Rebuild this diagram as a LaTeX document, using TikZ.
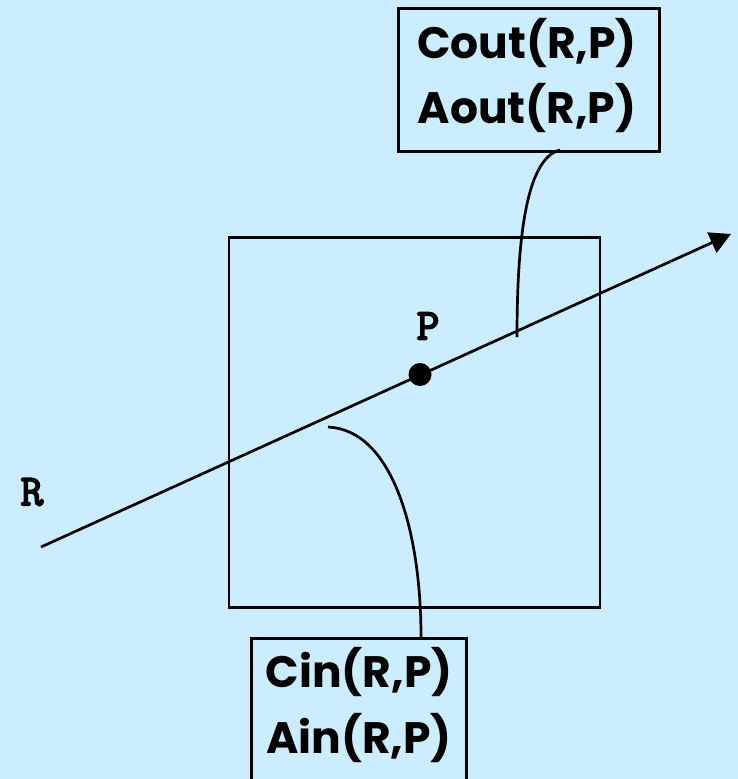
\documentclass[tikz,border=0pt]{standalone}
\usepackage{fontspec}
\newfontfamily\labfont{Poppins}
\newfontfamily\courfont{Latin Modern Mono}[FakeBold=4]
\usetikzlibrary{arrows.meta}
\definecolor{bgblue}{RGB}{204,236,255}
\begin{document}
\begin{tikzpicture}[x=1pt,y=-1pt,
  line/.style={line width=2.7pt,black},
  boxnode/.style={draw,line width=2.7pt,inner sep=0pt,anchor=north west},
  boxtext/.style={font=\labfont\bfseries\fontsize{44}{44}\selectfont,anchor=base,inner sep=0pt},
  ptlabel/.style={font=\courfont\fontsize{44}{44}\selectfont,inner sep=0pt}]
\fill[bgblue] (0,0) rectangle (738,779);
\clip (0,0) rectangle (738,779);
% square
\node[boxnode,minimum width=371pt,minimum height=370pt] (sq) at (227.5,236) {};
% ray
\coordinate (rs) at (41,547);
\coordinate (re) at (731,234);
\draw[line,-{Triangle[length=21pt,width=22pt]}] (rs) -- (re);
% point
\fill (420,374.5) circle (11.5) coordinate (p);
\node[ptlabel] (plab) at (428,326) {P};
\node[ptlabel] (rlab) at (32,492) {R};
% top box
\node[boxnode,minimum width=261pt,minimum height=143pt] (top) at (397,7) {};
\node[boxtext] (cout) at (527,58) {Cout(R,P)};
\node[boxtext] (aout) at (527,123) {Aout(R,P)};
% bottom box
\node[boxnode,minimum width=215pt,minimum height=170pt] (bot) at (250,637) {};
\node[boxtext] (cin) at (359,687) {Cin(R,P)};
\node[boxtext] (ain) at (359,753) {Ain(R,P)};
% connectors
\coordinate (oc) at (517,337);
\coordinate (ic) at (328,427);
\coordinate (ot) at (560,150);
\coordinate (ib) at (421,637);
\draw[line] (oc) .. controls (517,230) and (528,158) .. (ot);
\draw[line] (ic) .. controls (392,430) and (421,530) .. (ib);
\end{tikzpicture}
\end{document}
